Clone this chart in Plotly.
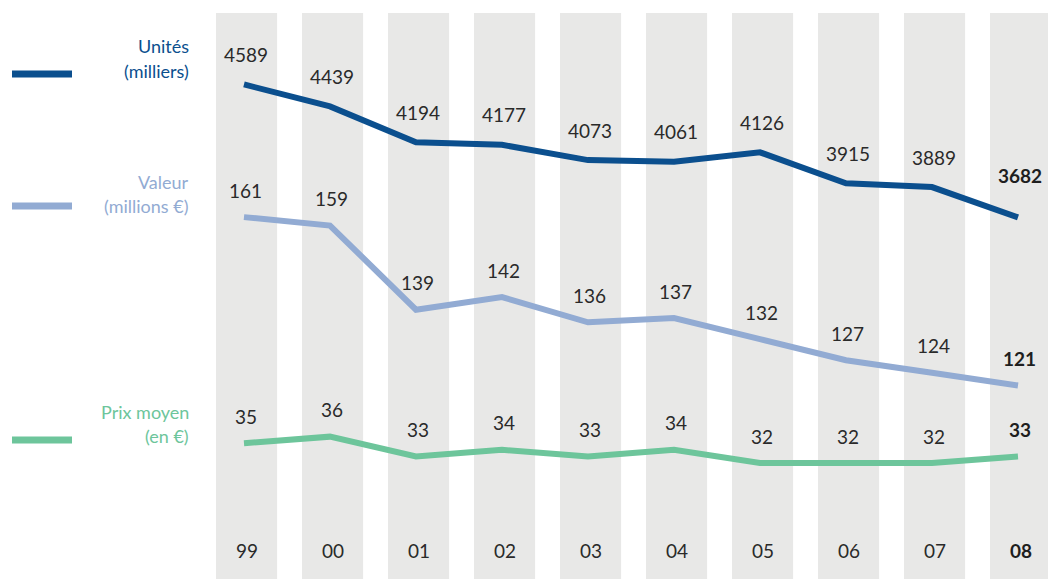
import plotly.graph_objects as go

years = ["99", "00", "01", "02", "03", "04", "05", "06", "07", "08"]
unites = [4589, 4439, 4194, 4177, 4073, 4061, 4126, 3915, 3889, 3682]
valeur = [161, 159, 139, 142, 136, 137, 132, 127, 124, 121]
prix = [35, 36, 33, 34, 33, 34, 32, 32, 32, 33]

series_names = [["Unités", "(milliers)"], ["Valeur", "(millions €)"], ["Prix moyen", "(en €)"]]
colors = ["#0b4f8e", "#92abd3", "#6dc59b"]

W, H = 1048, 579
FONT = "Lato, 'Open Sans', sans-serif"
TXT = "#2a2a2a"
xs = list(range(len(years)))

fig = go.Figure()

# grey stripes
for i in xs:
    fig.add_shape(type="rect", xref="x", yref="paper", x0=i - 0.325, x1=i + 0.385,
                  y0=0, y1=1 - 13 / H, fillcolor="#e8e8e7", line_width=0, layer="below")

axes = ["y", "y2", "y3"]
data = [unites, valeur, prix]
shifts = [30, 27, 27]
for k, (vals, ax) in enumerate(zip(data, axes)):
    fig.add_trace(go.Scatter(x=xs, y=vals, yaxis=ax, mode="lines",
                             line=dict(color=colors[k], width=6), showlegend=False,
                             hoverinfo="skip"))
    for i, v in enumerate(vals):
        last = i == len(vals) - 1
        fig.add_annotation(x=i, y=v, xref="x", yref=ax, text=f"<b>{v}</b>" if last else str(v),
                           showarrow=False, xshift=2, yanchor="middle",
                           yshift=shifts[k] + (12 if (last and k == 0) else 0),
                           font=dict(family=FONT, size=19, color="#1e1e1e" if last else TXT))

# year labels
for i, yr in enumerate(years):
    last = i == len(years) - 1
    fig.add_annotation(x=i, y=1 - 550 / H, xref="x", yref="paper", xshift=3,
                       yanchor="middle", xanchor="center",
                       text=f"<b>{yr}</b>" if last else yr, showarrow=False,
                       font=dict(family=FONT, size=19, color="#1e1e1e" if last else TXT))

# left legend
leg_y = [74, 206, 440]
lab_y = [[46, 71], [182, 206], [412, 436]]
for k in range(3):
    yp = 1 - leg_y[k] / H
    fig.add_shape(type="line", xref="paper", yref="paper", x0=12 / W, x1=72 / W,
                  y0=yp, y1=yp, line=dict(color=colors[k], width=7))
    for j, t in enumerate(series_names[k]):
        fig.add_annotation(x=191 / W, y=1 - lab_y[k][j] / H, xref="paper", yref="paper",
                           text=t, showarrow=False, xanchor="right", yanchor="middle",
                           font=dict(family=FONT, size=18, color=colors[k]))

hidden = dict(visible=False, showgrid=False, zeroline=False, fixedrange=True)
fig.update_layout(
    width=W, height=H,
    margin=dict(l=0, r=0, t=0, b=0),
    paper_bgcolor="white", plot_bgcolor="white",
    xaxis=dict(range=[-2.837, 9.349], **hidden),
    yaxis=dict(range=[1215.5, 5165], **hidden),
    yaxis2=dict(range=[75.0, 212.6], overlaying="y", **hidden),
    yaxis3=dict(range=[14.43, 102.16], overlaying="y", **hidden),
)

fig.write_html("out.html", config={"displayModeBar": False},
               post_script="document.body.style.margin='0';document.body.style.overflow='hidden';")
